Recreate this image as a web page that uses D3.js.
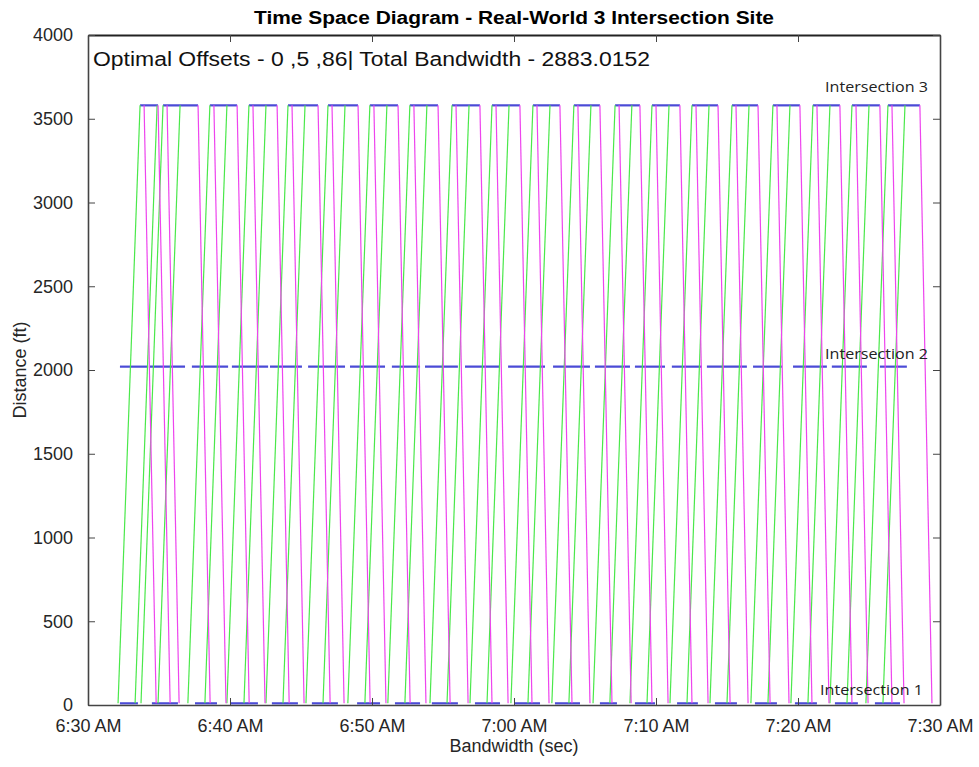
<!DOCTYPE html>
<html>
<head>
<meta charset="utf-8">
<script src="https://cdn.jsdelivr.net/npm/d3@7/dist/d3.min.js"></script>
<style>
  body { margin: 0; background: #fff; }
  text { font-family: "Liberation Sans", Arial, Helvetica, sans-serif; }
</style>
</head>
<body>
<div id="chart"></div>
<script>
// distances of the three intersections (ft)
const intersectionNames = ['Intersection 1', 'Intersection 2', 'Intersection 3']
const intersectionDist = [10, 2020, 3580]

const yTicks = [0, 500, 1000, 1500, 2000, 2500, 3000, 3500, 4000]
const xTickLabels = ['6:30 AM', '6:40 AM', '6:50 AM', '7:00 AM', '7:10 AM', '7:20 AM', '7:30 AM']

// green phases at each intersection, seconds after 6:30 AM [start, end]
const greenInt1 = [[135, 211], [270, 380], [452, 545], [600, 718], [777, 887], [946, 1056], [1137, 1234], [1297, 1403], [1453, 1563], [1635, 1741], [1804, 1910], [1973, 2079], [2163, 2235], [2311, 2396], [2489, 2577], [2649, 2742], [2818, 2911], [2987, 3080], [3156, 3253], [3325, 3431]]
const greenInt2 = [[135, 254], [262, 410], [439, 592], [608, 761], [769, 904], [930, 1086], [1107, 1255], [1284, 1403], [1424, 1563], [1593, 1741], [1775, 1931], [1965, 2121], [2142, 2290], [2311, 2438], [2467, 2594], [2615, 2784], [2810, 2932], [2979, 3122], [3143, 3291], [3346, 3460]]
const greenInt3 = [[220, 296], [317, 465], [515, 630], [680, 799], [845, 972], [1014, 1141], [1191, 1310], [1360, 1479], [1538, 1656], [1707, 1825], [1880, 1994], [2053, 2163], [2227, 2332], [2383, 2501], [2552, 2662], [2721, 2831], [2894, 3008], [3063, 3177], [3228, 3346], [3380, 3515]]

// northbound band edges (green): time leaving Int 1, time reaching Int 3
const nbDepart = [127, 199, 224, 296, 422, 494, 587, 659, 752, 824, 921, 993, 1098, 1170, 1267, 1339, 1445, 1517, 1614, 1686, 1787, 1859, 1960, 2032, 2134, 2205, 2290, 2362, 2459, 2531, 2628, 2700, 2801, 2873, 2970, 3042, 3135, 3207, 3287, 3359]
const nbArrive = [220, 292, 317, 389, 515, 587, 680, 752, 845, 917, 1014, 1086, 1191, 1263, 1360, 1432, 1538, 1610, 1707, 1779, 1880, 1952, 2053, 2125, 2227, 2298, 2383, 2455, 2552, 2624, 2721, 2793, 2894, 2966, 3063, 3135, 3228, 3300, 3380, 3452]

// southbound band edges (magenta): time leaving Int 3, time reaching Int 1
const sbDepart = [237, 296, 334, 465, 532, 630, 697, 799, 862, 972, 1031, 1141, 1208, 1310, 1377, 1479, 1555, 1656, 1724, 1825, 1897, 1994, 2070, 2163, 2244, 2332, 2400, 2501, 2569, 2662, 2738, 2831, 2911, 3008, 3080, 3177, 3245, 3346, 3397, 3515]
const sbArrive = [288, 347, 385, 516, 583, 681, 748, 850, 913, 1023, 1082, 1192, 1259, 1361, 1428, 1530, 1606, 1707, 1775, 1876, 1948, 2045, 2121, 2214, 2295, 2383, 2451, 2552, 2620, 2713, 2789, 2882, 2962, 3059, 3131, 3228, 3296, 3397, 3448, 3566]

const W = 979, H = 767
const margin = { top: 35, right: 39, bottom: 62, left: 88 }

const svg = d3.select('#chart').append('svg')
  .attr('width', W).attr('height', H)

const x = d3.scaleLinear().domain([0, 3600]).range([margin.left, W - margin.right])
const y = d3.scaleLinear().domain([0, 4000]).range([H - margin.bottom, margin.top])

svg.append('defs').append('clipPath').attr('id', 'clip')
  .append('rect')
  .attr('x', x(0)).attr('y', y(4000))
  .attr('width', x(3600) - x(0)).attr('height', y(0) - y(4000))
const plot = svg.append('g').attr('clip-path', 'url(#clip)')

// green phase bars
const bars = [greenInt1, greenInt2, greenInt3]
bars.forEach((list, i) => {
  plot.selectAll(null).data(list).join('line')
    .attr('x1', d => x(d[0])).attr('x2', d => x(d[1]))
    .attr('y1', y(intersectionDist[i])).attr('y2', y(intersectionDist[i]))
    .attr('stroke', '#4b4bd6').attr('stroke-width', 2.2)
})

// vehicle band lines
plot.selectAll(null).data(nbDepart).join('line')
  .attr('x1', d => x(d)).attr('y1', y(intersectionDist[0]))
  .attr('x2', (d, i) => x(nbArrive[i])).attr('y2', y(intersectionDist[2]))
  .attr('stroke', '#4ae84a').attr('stroke-width', 1.2)

plot.selectAll(null).data(sbDepart).join('line')
  .attr('x1', d => x(d)).attr('y1', y(intersectionDist[2]))
  .attr('x2', (d, i) => x(sbArrive[i])).attr('y2', y(intersectionDist[0]))
  .attr('stroke', '#ee44ee').attr('stroke-width', 1.2)

// axes (box with inward ticks)
const axisColor = '#444'
const xTickVals = d3.range(xTickLabels.length).map(i => i * 600)

const xAxis = svg.append('g').attr('transform', `translate(0,${y(0)})`)
  .call(d3.axisBottom(x).tickValues(xTickVals).tickFormat((d, i) => xTickLabels[i]).tickSizeInner(-7).tickSizeOuter(0).tickPadding(14))
const xTop = svg.append('g').attr('transform', `translate(0,${y(4000)})`)
  .call(d3.axisTop(x).tickValues(xTickVals).tickFormat('').tickSizeInner(-7).tickSizeOuter(0))
const yAxis = svg.append('g').attr('transform', `translate(${x(0)},0)`)
  .call(d3.axisLeft(y).tickValues(yTicks).tickFormat(d3.format('d')).tickSizeInner(-7).tickSizeOuter(0).tickPadding(15))
const yRight = svg.append('g').attr('transform', `translate(${x(3600)},0)`)
  .call(d3.axisRight(y).tickValues(yTicks).tickFormat('').tickSizeInner(-7).tickSizeOuter(0))

;[xAxis, xTop, yAxis, yRight].forEach(g => {
  g.selectAll('path.domain').attr('stroke', axisColor).attr('stroke-width', 1.6)
  g.selectAll('line').attr('stroke', axisColor).attr('stroke-width', 1)
  g.selectAll('text').attr('fill', '#262626').style('font-size', '18px')
})
xAxis.selectAll('text').attr('dy', '0.71em')
xTop.select('path.domain').attr('stroke', '#222').attr('stroke-width', 2)

// titles
svg.append('text')
  .attr('x', 514).attr('y', 24)
  .attr('text-anchor', 'middle')
  .style('font-size', '18px').style('font-weight', 'bold')
  .attr('textLength', 520).attr('lengthAdjust', 'spacingAndGlyphs')
  .text('Time Space Diagram - Real-World 3 Intersection Site')

svg.append('text')
  .attr('x', 93).attr('y', 66)
  .style('font-size', '20px').attr('fill', '#111')
  .attr('textLength', 557).attr('lengthAdjust', 'spacingAndGlyphs')
  .text('Optimal Offsets - 0 ,5 ,86| Total Bandwidth - 2883.0152')

svg.append('text')
  .attr('x', 514).attr('y', 752)
  .attr('text-anchor', 'middle')
  .style('font-size', '18px').attr('fill', '#262626')
  .text('Bandwidth (sec)')

svg.append('text')
  .attr('transform', `translate(26,${370}) rotate(-90)`)
  .attr('text-anchor', 'middle')
  .style('font-size', '18px').attr('fill', '#262626')
  .text('Distance (ft)')

// intersection labels
const labelPos = [[820, 695], [825, 359], [825, 92]]
intersectionNames.forEach((name, i) => {
  svg.append('text')
    .attr('x', labelPos[i][0]).attr('y', labelPos[i][1])
    .style('font-family', '"Open Sans", "Noto Sans", sans-serif')
    .style('font-size', '15px').attr('fill', '#222')
    .attr('textLength', 103).attr('lengthAdjust', 'spacingAndGlyphs')
    .text(name)
})
</script>
</body>
</html>
